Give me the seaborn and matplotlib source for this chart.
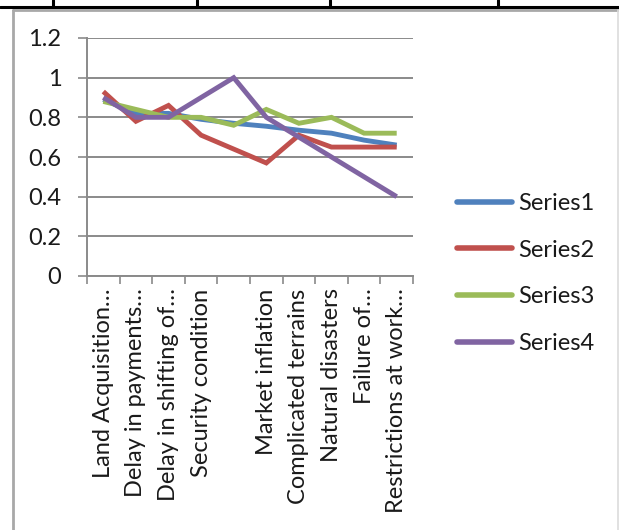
import matplotlib
matplotlib.use("Agg")
import matplotlib.pyplot as plt
from matplotlib.lines import Line2D
from matplotlib.ticker import FixedLocator, NullFormatter
import seaborn as sns
import pandas as pd
import numpy as np

# Delay factors (category axis); one slot is left without a label
categories = ["Land Acquisition…", "Delay in payments…", "Delay in shifting of…",
              "Security condition", "", "Market inflation", "Complicated terrains",
              "Natural disasters", "Failure of…", "Restrictions at work…"]
series1 = [0.89, 0.82, 0.82, 0.79, 0.77, 0.755, 0.735, 0.72, 0.685, 0.66]
series2 = [0.93, 0.78, 0.86, 0.71, 0.64, 0.57, 0.71, 0.65, 0.65, 0.65]
series3 = [0.88, 0.84, 0.80, 0.80, 0.76, 0.84, 0.77, 0.80, 0.72, 0.72]
series4 = [0.90, 0.80, 0.80, 0.90, 1.00, 0.80, 0.70, 0.60, 0.50, 0.40]
series_names = ["Series1", "Series2", "Series3", "Series4"]
y_ticks = [0, 0.2, 0.4, 0.6, 0.8, 1.0, 1.2]
y_tick_labels = ["0", "0.2", "0.4", "0.6", "0.8", "1", "1.2"]

palette = ["#4F81BD", "#C0504D", "#9BBB59", "#8064A2"]

rows = []
for name, vals in zip(series_names, [series1, series2, series3, series4]):
    for i, v in enumerate(vals):
        rows.append({"pos": i, "value": v, "series": name})
df = pd.DataFrame(rows)

sns.set_theme(style="white")
plt.rcParams["font.family"] = ["Lato", "DejaVu Sans"]

W, H = 619, 530
fig = plt.figure(figsize=(W / 100, H / 100), dpi=100)
fig.patch.set_facecolor("white")

# plot area in pixel units
left, right, top, bottom = 87, 413, 38, 276
ax = fig.add_axes([left / W, 1 - bottom / H, (right - left) / W, (bottom - top) / H])

sns.lineplot(data=df, x="pos", y="value", hue="series", hue_order=series_names,
             palette=palette, linewidth=3.5, ax=ax, legend=True, sort=False)
for ln in ax.get_lines():
    ln.set_solid_joinstyle("miter")
    ln.set_solid_capstyle("butt")

n = len(categories)
ax.set_xlim(-0.5, n - 0.5)
ax.set_ylim(0, 1.2)
ax.set_xlabel("")
ax.set_ylabel("")

fs = 17
grid_c = "#8a8a8a"
ax.set_yticks(y_ticks)
ax.set_yticklabels(y_tick_labels)
ax.yaxis.grid(True, color=grid_c, linewidth=1.4)
ax.set_axisbelow(True)
for s in ["top", "right"]:
    ax.spines[s].set_visible(False)
for s in ["left", "bottom"]:
    ax.spines[s].set_color(grid_c)
    ax.spines[s].set_linewidth(1.4)

# tick marks between categories, labels at category centres
ax.xaxis.set_major_locator(FixedLocator(np.arange(n + 1) - 0.5))
ax.xaxis.set_major_formatter(NullFormatter())
ax.xaxis.set_minor_locator(FixedLocator(np.arange(n)))
ax.set_xticks(np.arange(n), labels=categories, minor=True)
ax.tick_params(axis="x", which="major", direction="out", length=6, width=1.2,
               color=grid_c, bottom=True)
ax.tick_params(axis="x", which="minor", length=0, pad=9, labelsize=fs,
               labelcolor="#1a1a1a", labelrotation=90)
ax.tick_params(axis="y", direction="out", length=6.5, width=1.2, color=grid_c,
               left=True, pad=12, labelsize=fs, labelcolor="#1a1a1a")

leg = ax.legend(loc="center left", bbox_to_anchor=(1.107, 0.01), frameon=False,
                fontsize=fs, handlelength=2.33, handletextpad=0.25,
                labelspacing=1.09, borderaxespad=0)
for h in leg.get_lines():
    h.set_linewidth(4)
    h.set_solid_capstyle("round")
for t in leg.get_texts():
    t.set_color("#1a1a1a")

# surrounding table rules and chart frame
def px_line(x0, y0, x1, y1, **kw):
    fig.add_artist(Line2D([x0 / W, x1 / W], [1 - y0 / H, 1 - y1 / H],
                          transform=fig.transFigure, **kw))

px_line(0, 6.5, W, 6.5, color="black", linewidth=2.2)
for xv in [53, 197, 330, 498]:
    px_line(xv, 0, xv, 6.5, color="black", linewidth=2.2)
px_line(12.5, 9.5, W, 9.5, color="#a8a8a8", linewidth=2)
px_line(12.5, 9.5, 12.5, H, color="#a8a8a8", linewidth=2)
px_line(618, 9.5, 618, H, color="#dcdcdc", linewidth=1.2)

fig.savefig("out.png", dpi=100, facecolor="white")
